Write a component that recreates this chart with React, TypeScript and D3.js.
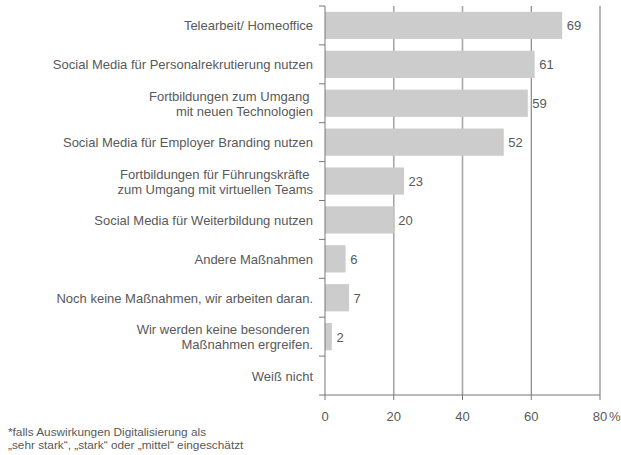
import React from "react";
import * as d3 from "d3";

const categories: string[][] = [
  ["Telearbeit/ Homeoffice"],
  ["Social Media für Personalrekrutierung nutzen"],
  ["Fortbildungen zum Umgang ", "mit neuen Technologien"],
  ["Social Media für Employer Branding nutzen"],
  ["Fortbildungen für Führungskräfte ", "zum Umgang mit virtuellen Teams"],
  ["Social Media für Weiterbildung nutzen"],
  ["Andere Maßnahmen"],
  ["Noch keine Maßnahmen, wir arbeiten daran."],
  ["Wir werden keine besonderen ", "Maßnahmen ergreifen."],
  ["Weiß nicht"],
];
const values: (number | null)[] = [69, 61, 59, 52, 23, 20, 6, 7, 2, null];
const xTicks: number[] = [0, 20, 40, 60, 80];
const footnote: string[] = [
  "*falls Auswirkungen Digitalisierung als",
  "„sehr stark“, „stark“ oder „mittel“ eingeschätzt",
];

const W = 621, H = 455;
const left = 325, right = 600, top = 6, bottom = 395;
const textColor = "#595959";
const font = "Arial, 'Liberation Sans', sans-serif";

export default function App() {
  const x = d3.scaleLinear().domain([0, 80]).range([left, right]);
  const idx = categories.map((_, i) => String(i));
  const y = d3.scaleBand().domain(idx).range([top, bottom]).paddingInner(0.3).paddingOuter(0.15);
  const step = (bottom - top) / categories.length;
  return (
    <svg width={W} height={H} style={{ position: "absolute", left: 0, top: 0, background: "#fff" }}
      fontFamily={font}>
      {xTicks.slice(1).map((t, i) => (
        <line key={"g" + t} x1={x(t)} x2={x(t)} y1={top} y2={bottom}
          stroke={i < 2 ? "#a6a6a6" : "#6f6f6f"} strokeWidth={i < 2 ? 1.6 : 1} />
      ))}
      {values.map((v, i) =>
        v == null ? null : (
          <rect key={"b" + i} x={x(0)} y={y(String(i))!} width={x(v) - x(0)} height={y.bandwidth()} fill="#cccccc" />
        )
      )}
      {values.map((v, i) =>
        v == null ? null : (
          <text key={"v" + i} x={x(v) + 4.5} y={y(String(i))! + y.bandwidth() / 2 + 5}
            fontSize={13} fill={textColor}>{v}</text>
        )
      )}
      <line x1={left} x2={left} y1={top} y2={bottom} stroke="#777" strokeWidth={1} />
      {d3.range(categories.length + 1).map((i) => (
        <line key={"yt" + i} x1={left - 6} x2={left} y1={top + i * step} y2={top + i * step} stroke="#777" />
      ))}
      <line x1={left} x2={right} y1={bottom} y2={bottom} stroke="#777" strokeWidth={1} />
      {xTicks.map((t) => (
        <line key={"xt" + t} x1={x(t)} x2={x(t)} y1={bottom} y2={bottom + 5} stroke="#777" />
      ))}
      {xTicks.map((t) => (
        <text key={"xl" + t} x={x(t)} y={bottom + 26} textAnchor="middle" fontSize={13} fill={textColor}>{t}</text>
      ))}
      <text x={x(80) + 9} y={bottom + 26} fontSize={13} fill={textColor} textAnchor="start">%</text>
      {categories.map((lines, i) => {
        const cy = top + (i + 0.5) * step;
        const lh = 15;
        const y0 = cy - ((lines.length - 1) * lh) / 2 + 5;
        return (
          <text key={"c" + i} x={313} fontSize={13} fill={textColor} textAnchor="end" style={{ whiteSpace: "pre" }}>
            {lines.map((l, j) => (
              <tspan key={j} x={313} y={y0 + j * lh}>{l}</tspan>
            ))}
          </text>
        );
      })}
      {footnote.map((l, j) => (
        <text key={"f" + j} x={8} y={436 + j * 13} fontSize={11.8} fill={textColor}>{l}</text>
      ))}
    </svg>
  );
}
